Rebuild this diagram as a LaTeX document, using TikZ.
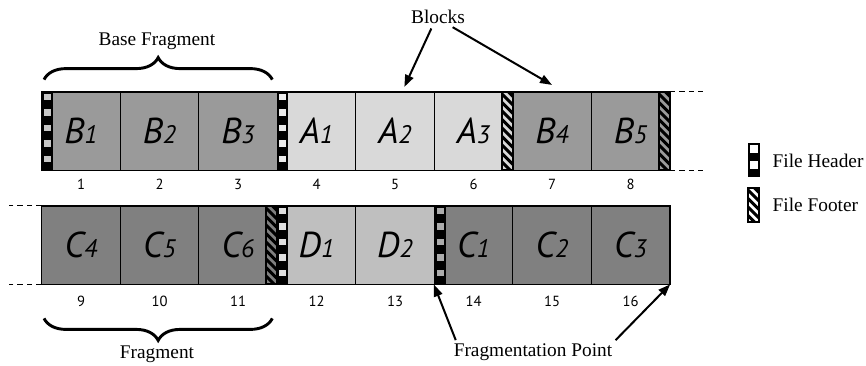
\documentclass[tikz,border=0pt]{standalone}
\usepackage{fontspec}
\setmainfont{Liberation Serif}
\newfontfamily\cellfont{PT Sans}
\usetikzlibrary{arrows.meta,decorations.pathreplacing}

\definecolor{bgray}{HTML}{9A9A9A}
\definecolor{agray}{HTML}{D9D9D9}
\definecolor{cgray}{HTML}{808080}
\definecolor{dgray}{HTML}{BFBFBF}

\tikzset{
	cell/.style={draw=black, line width=0.6pt, minimum width=58.875pt, minimum height=58.5pt, inner sep=0pt,
		font=\cellfont\itshape\fontsize{27}{27}\selectfont},
	num/.style={font=\cellfont\fontsize{11}{11}\selectfont},
	lbl/.style={font=\fontsize{14.5}{16}\selectfont},
	arr/.style={line width=1.5pt, -{Triangle[length=9pt,width=6.5pt]}},
	brc/.style={decorate, decoration={brace, amplitude=16.5pt}, line width=2.2pt},
	dashext/.style={line width=0.8pt, dash pattern=on 4pt off 3pt}
}

% header strip: left x, top y, colour of the squares
\newcommand\hdrstrip[3]{%
	\fill[black] (#1,#2) rectangle ++(11,78);
	\foreach \k in {0,...,4}
		\fill[#3] (#1+2,#2+1.5+15.6*\k) rectangle ++(7,6.5);
}
% footer strip: left x, top y, height
\newcommand\ftrstrip[3]{%
	\begin{scope}
		\clip (#1,#2) rectangle ++(11,#3);
		\foreach \k in {-2,...,10}
			\draw[line width=2.2pt] (#1-2,#2+8.5*\k) -- ++(16,16);
	\end{scope}
	\draw[line width=0.8pt] (#1,#2) rectangle ++(11,#3);
}
\newcommand\blk[2]{#1{\fontsize{19}{19}\selectfont #2}}

\begin{document}
\begin{tikzpicture}[x=0.75pt, y=-0.75pt]
	\useasboundingbox (0,0) rectangle (866,365);

	% top row
	\foreach \nm/\L/\s/\c [count=\i] in {b1/B/1/bgray, b2/B/2/bgray, b3/B/3/bgray, a1/A/1/agray, a2/A/2/agray, a3/A/3/agray, b4/B/4/bgray, b5/B/5/bgray} {
		\node[cell, fill=\c] (\nm) at (81+78.5*\i-78.5, 131) {\blk{\L}{\s}};
		\node[num] (n\i) at (81+78.5*\i-78.5, 184) {\i};
	}
	% bottom row
	\foreach \nm/\L/\s/\c [count=\i] in {c4/C/4/cgray, c5/C/5/cgray, c6/C/6/cgray, d1/D/1/dgray, d2/D/2/dgray, c1/C/1/cgray, c2/C/2/cgray, c3/C/3/cgray} {
		\pgfmathtruncatemacro{\j}{\i+8}
		\node[cell, fill=\c] (\nm) at (81+78.5*\i-78.5, 245) {\blk{\L}{\s}};
		\node[num] (n\j) at (81+78.5*\i-78.5, 301) {\j};
	}

	% headers and footers
	\hdrstrip{42}{92}{bgray!55!white}
	\hdrstrip{277}{92}{agray!50!white}
	\ftrstrip{502}{92}{78}
	\ftrstrip{659}{92}{78}
	\ftrstrip{266}{206}{78}
	\hdrstrip{277}{206}{dgray!50!white}
	\hdrstrip{435}{206}{cgray!65!white}

	\draw[line width=1.2pt] (b1.north west) rectangle (b5.south east);
	\draw[line width=1.2pt] (c4.north west) rectangle (c3.south east);
	\draw[dashext] (b5.north east) -- ++(33,0);
	\draw[dashext] (b5.south east) -- ++(33,0);
	\draw[dashext] (c4.north west) -- ++(-32,0);
	\draw[dashext] (c4.south west) -- ++(-32,0);

	% braces
	\draw[brc] ([xshift=2pt,yshift=9pt]b1.north west) -- ([xshift=-4pt,yshift=9pt]b3.north east);
	\node[lbl] (basefrag) at (157,41) {Base Fragment};
	\draw[brc] ([xshift=-4pt,yshift=-25.5pt]c6.south east) -- ([xshift=2pt,yshift=-25.5pt]c4.south west);
	\node[lbl] (frag) at (157,354) {Fragment};

	% labels with arrows
	\node[lbl] (blocks) at (438,17) {Blocks};
	\draw[arr] ([xshift=-5pt]blocks.south) -- ([xshift=7pt,yshift=3.5pt]a2.north);
	\draw[arr] ([xshift=11pt,yshift=1pt]blocks.south) -- ([yshift=5pt]b4.north);
	\node[lbl] (fragpt) at (533,352) {Fragmentation Point};
	\draw[arr] ([xshift=5pt,yshift=-1pt]fragpt.north west) -- (c1.south west);
	\draw[arr] ([xshift=-1pt,yshift=-1pt]fragpt.north east) -- (c3.south east);

	% legend
	\fill[black] (748,143) rectangle ++(12,34);
	\fill[white] (750,145) rectangle ++(8,7.5);
	\fill[white] (750,161) rectangle ++(8,7.5);
	\node[lbl, anchor=west] (hdrkey) at (768,161) {File Header};
	\ftrstrip{748}{188}{34}
	\node[lbl, anchor=west] (ftrkey) at (768,205) {File Footer};
\end{tikzpicture}
\end{document}
